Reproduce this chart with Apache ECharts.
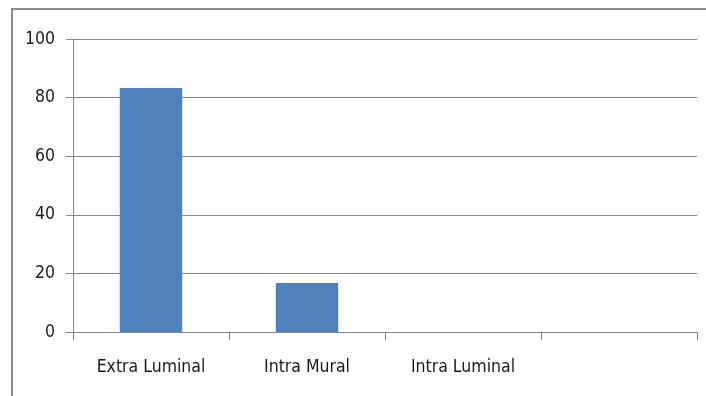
<!DOCTYPE html>
<html>
<head>
<meta charset="utf-8">
<script src="https://cdn.jsdelivr.net/npm/echarts@6/dist/echarts.min.js"></script>
<style>
  html, body { margin: 0; padding: 0; background: #fff; }
  #chart { width: 706px; height: 396px; }
</style>
</head>
<body>
<div id="chart"></div>
<script>
// Location categories (the fourth slot is left blank)
const categories = ['Extra Luminal', 'Intra Mural', 'Intra Luminal', ''];
// Percentage per location
const values = [83.3, 16.7, 0, null];
// Value axis range
const yMin = 0, yMax = 100, yStep = 20;

const FONT = '"DejaVu Sans Condensed", "DejaVu Sans", sans-serif';
const lineGray = '#868686';

const chart = echarts.init(document.getElementById('chart'), null, { renderer: 'canvas' });
chart.setOption({
  animation: false,
  backgroundColor: '#ffffff',
  graphic: [{
    type: 'rect',
    shape: { x: 12, y: 9, width: 800, height: 500 },
    style: { fill: 'none', stroke: '#8a8a8a', lineWidth: 2 },
    silent: true
  }],
  grid: { left: 73, right: 9, top: 39, bottom: 64, containLabel: false },
  xAxis: {
    type: 'category',
    data: categories,
    boundaryGap: true,
    axisLine: { show: true, lineStyle: { color: lineGray, width: 1 } },
    axisTick: { show: true, length: 8, inside: false, alignWithLabel: false, lineStyle: { color: lineGray } },
    axisLabel: { color: '#1a1a1a', fontFamily: FONT, fontSize: 17.5, margin: 26, interval: 0 },
    splitLine: { show: false }
  },
  yAxis: {
    type: 'value',
    min: yMin, max: yMax, interval: yStep,
    axisLine: { show: true, lineStyle: { color: lineGray, width: 1 } },
    axisTick: { show: true, length: 7, inside: false, lineStyle: { color: lineGray } },
    axisLabel: { color: '#1a1a1a', fontFamily: FONT, fontSize: 17.5, margin: 18 },
    splitLine: { show: true, lineStyle: { color: lineGray, width: 1 } }
  },
  series: [{
    type: 'bar',
    data: values,
    barWidth: '40%',
    itemStyle: { color: '#4f81bd' }
  }]
});
</script>
</body>
</html>
